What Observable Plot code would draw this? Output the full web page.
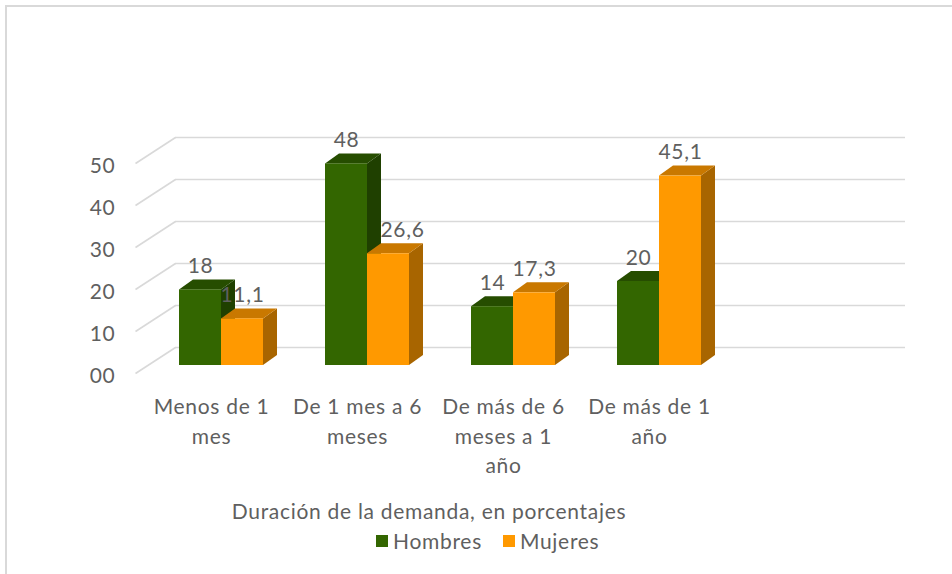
<!DOCTYPE html>
<html>
<head>
<meta charset="utf-8">
<script src="https://cdn.jsdelivr.net/npm/d3@7"></script>
<script src="https://cdn.jsdelivr.net/npm/@observablehq/plot@0.6"></script>
<style>
  html, body { margin: 0; padding: 0; background: #fff; }
  body { width: 952px; height: 574px; overflow: hidden; position: relative; font-family: Lato, "Open Sans", sans-serif; color: #5f5f5f; letter-spacing: 0.7px; }
  #frame { position: absolute; left: 5px; top: 5px; width: 1000px; height: 700px; border-left: 2px solid #d9d9d9; border-top: 2px solid #d9d9d9; }
  #chart { position: absolute; left: 0; top: 0; }
  #legend-title { position: absolute; left: 0; width: 858px; top: 498px; text-align: center; font-size: 21px; }
  #legend { position: absolute; top: 528px; left: 376px; font-size: 21px; display: flex; align-items: center; }
  .item { display: flex; align-items: center; margin-right: 21px; }
  .sw { width: 12px; height: 12px; margin-right: 5px; }
</style>
</head>
<body>
<div id="frame"></div>
<div id="chart"></div>
<div id="legend-title">Duración de la demanda, en porcentajes</div>
<div id="legend"></div>
<script>
// ---- data ----
const categories = ["Menos de 1 mes", "De 1 mes a 6 meses", "De más de 6 meses a 1 año", "De más de 1 año"];
const categoryLabels = ["Menos de 1\nmes", "De 1 mes a 6\nmeses", "De más de 6\nmeses a 1\naño", "De más de 1\naño"];
const series = ["Hombres", "Mujeres"];
const hombres = [18, 48, 14, 20];
const mujeres = [11.1, 26.6, 17.3, 45.1];
const yTicks = [0, 10, 20, 30, 40, 50];
const yTickLabels = ["00", "10", "20", "30", "40", "50"];

// ---- styling ----
const colors = {
  Hombres: {front: "#336600", top: "#264d00", side: "#1f4000"},
  Mujeres: {front: "#ff9900", top: "#c97800", side: "#a86500"}
};
const textColor = "#5f5f5f";
const font = "Lato, 'Open Sans', sans-serif";
const fs = 21;

// 3D geometry in data units
const bw = 42 / 146;       // bar width (x units)
const dX = 14 / 146;       // depth offset x
const dY = 10 / 4.2;       // depth offset y
const backY = 18 / 4.2;    // back wall offset
const frontY = -8 / 4.2;   // front floor offset
const wallBackX = (175 - 221) / 146;
const wallFrontX = (135 - 221) / 146;

const fmt = v => String(v).replace(".", ",");

const rows = [];
categories.forEach((c, i) => {
  [hombres[i], mujeres[i]].forEach((v, s) => {
    const x0 = s === 0 ? i - bw : i;
    rows.push({id: c + s, cat: c, i, serie: series[s], v, x0, x1: x0 + bw});
  });
});

function barMarks(serie) {
  const r = rows.filter(d => d.serie === serie);
  const c = colors[serie];
  const side = r.flatMap(d => [
    {id: d.id, x: d.x1, y1: 0, y2: d.v},
    {id: d.id, x: d.x1 + dX, y1: dY, y2: d.v + dY}
  ]);
  const top = r.flatMap(d => [
    {id: d.id, y: d.v, x1: d.x0, x2: d.x1},
    {id: d.id, y: d.v + dY, x1: d.x0 + dX, x2: d.x1 + dX}
  ]);
  return r.map(d => [
    Plot.areaY(side.filter(p => p.id === d.id), {x: "x", y1: "y1", y2: "y2", fill: c.side}),
    Plot.areaX(top.filter(p => p.id === d.id), {y: "y", x1: "x1", x2: "x2", fill: c.top}),
    Plot.rectY([d], {x1: "x0", x2: "x1", y1: 0, y2: "v", fill: c.front})
  ]).flat();
}

const chart = Plot.plot({
  width: 952,
  height: 490,
  marginLeft: 175,
  marginRight: 47,
  marginTop: 20,
  marginBottom: 20,
  style: {fontFamily: font, background: "transparent", letterSpacing: "0.7px"},
  x: {type: "linear", domain: [0, 3], range: [221, 659], axis: null},
  y: {type: "linear", domain: [0, 50], range: [365, 155], axis: null},
  marks: [
    Plot.ruleY(yTicks, {y: d => d + backY, stroke: "#d9d9d9", strokeWidth: 1.6}),
    Plot.link(yTicks, {x1: wallBackX, y1: d => d + backY, x2: wallFrontX, y2: d => d + frontY, stroke: "#d9d9d9", strokeWidth: 1.6}),
    Plot.text(yTicks, {y: d => d, text: (d, i) => yTickLabels[i], frameAnchor: "left", textAnchor: "end", dx: -60, dy: 11, lineAnchor: "middle", fontSize: fs, fill: textColor}),
    Plot.text(categories, {x: (d, i) => i, y: 0, text: (d, i) => categoryLabels[i], dx: -10, dy: 28, lineAnchor: "top", lineHeight: 29.5 / fs, fontSize: fs, fill: textColor}),
    ...barMarks("Hombres"),
    ...barMarks("Mujeres"),
    Plot.text(rows.filter(d => !(d.serie === "Mujeres" && hombres[d.i] - d.v > 15)), {x: d => (d.x0 + d.x1) / 2, y: d => d.v + dY, text: d => fmt(d.v), dy: -7, lineAnchor: "bottom", fontSize: fs, fill: textColor}),
    Plot.text(rows.filter(d => d.serie === "Mujeres" && hombres[d.i] - d.v > 15), {x: d => (d.x0 + d.x1) / 2 + dX, y: d => d.v + dY, text: d => fmt(d.v), dy: -7, lineAnchor: "bottom", fontSize: fs, fill: textColor})
  ]
});
document.getElementById("chart").appendChild(chart);

const legend = document.getElementById("legend");
series.forEach(s => {
  const it = document.createElement("div");
  it.className = "item";
  const sw = document.createElement("div");
  sw.className = "sw";
  sw.style.background = colors[s].front;
  const t = document.createElement("span");
  t.textContent = s;
  it.appendChild(sw);
  it.appendChild(t);
  legend.appendChild(it);
});
</script>
</body>
</html>
